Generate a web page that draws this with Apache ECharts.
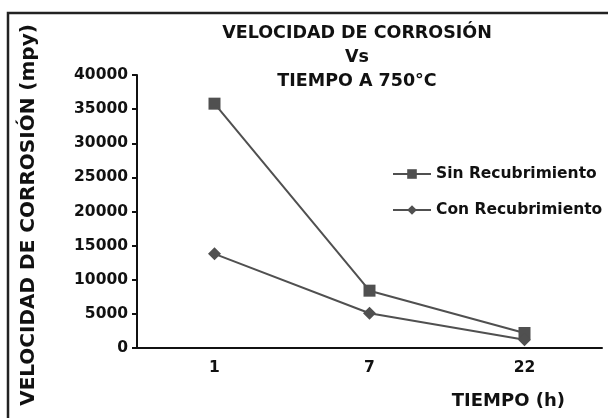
<!DOCTYPE html>
<html>
<head>
<meta charset="utf-8">
<script src="https://cdn.jsdelivr.net/npm/echarts@6/dist/echarts.min.js"></script>
<style>
  html, body { margin: 0; padding: 0; background: #fff; }
  #chart { width: 608px; height: 418px; }
</style>
</head>
<body>
<div id="chart"></div>
<script>
// datos
const tiempos = ['1', '7', '22'];
const sinRecubrimiento = [35800, 8400, 2200];
const conRecubrimiento = [13800, 5100, 1200];
const yMax = 40000;
const yStep = 5000;

const FONT = 'DejaVu Sans';
const chart = echarts.init(document.getElementById('chart'));

const option = {
  backgroundColor: '#fff',
  animation: false,
  textStyle: { fontFamily: FONT, fontWeight: 'bold', color: '#111' },
  title: {
    text: 'VELOCIDAD DE CORROSIÓN\nVs\nTIEMPO A 750°C',
    left: 352,
    top: 16,
    textAlign: 'center',
    textStyle: { fontFamily: FONT, fontSize: 17.5, fontWeight: 'bold', color: '#111', lineHeight: 24 }
  },
  legend: {
    orient: 'vertical',
    left: 387,
    top: 161,
    itemWidth: 38,
    itemHeight: 12,
    itemGap: 20,
    textStyle: { fontFamily: FONT, fontSize: 15.5, fontWeight: 'bold', color: '#111' },
    data: ['Sin Recubrimiento', 'Con Recubrimiento']
  },
  grid: { left: 137, right: 6, top: 75, bottom: 70 },
  xAxis: {
    type: 'category',
    data: tiempos,
    name: 'TIEMPO (h)',
    nameLocation: 'end',
    nameGap: 0,
    nameTextStyle: {
      fontFamily: FONT, fontSize: 18, fontWeight: 'bold', color: '#111',
      align: 'right', verticalAlign: 'top', padding: [44, 37, 0, 0]
    },
    axisLine: { lineStyle: { color: '#111', width: 2 } },
    axisTick: { length: 5, lineStyle: { color: '#111', width: 2 } },
    axisLabel: { fontFamily: FONT, fontSize: 15.5, fontWeight: 'bold', color: '#111', margin: 12 }
  },
  yAxis: {
    type: 'value',
    min: 0,
    max: yMax,
    interval: yStep,
    name: 'VELOCIDAD DE CORROSIÓN (mpy)',
    nameLocation: 'middle',
    nameGap: 98,
    nameTextStyle: { fontFamily: FONT, fontSize: 20, fontWeight: 'bold', color: '#111', padding: [0, 7, 0, 0] },
    axisLine: { show: true, lineStyle: { color: '#111', width: 2 } },
    axisTick: { show: true, length: 5, lineStyle: { color: '#111', width: 2 } },
    splitLine: { show: false },
    axisLabel: {
      fontFamily: FONT, fontSize: 15.5, fontWeight: 'bold', color: '#111', margin: 9,
      formatter: v => String(v)
    }
  },
  series: [
    {
      name: 'Sin Recubrimiento',
      type: 'line',
      data: sinRecubrimiento,
      symbol: 'rect',
      symbolSize: 12,
      itemStyle: { color: '#505050' },
      lineStyle: { color: '#505050', width: 2 }
    },
    {
      name: 'Con Recubrimiento',
      type: 'line',
      data: conRecubrimiento,
      symbol: 'diamond',
      symbolSize: 13,
      itemStyle: { color: '#505050' },
      lineStyle: { color: '#505050', width: 2 }
    }
  ],
  graphic: [
    {
      type: 'rect',
      shape: { x: 8, y: 13, width: 700, height: 500 },
      style: { fill: 'none', stroke: '#222', lineWidth: 2.5 },
      silent: true
    }
  ]
};

chart.setOption(option);
</script>
</body>
</html>
